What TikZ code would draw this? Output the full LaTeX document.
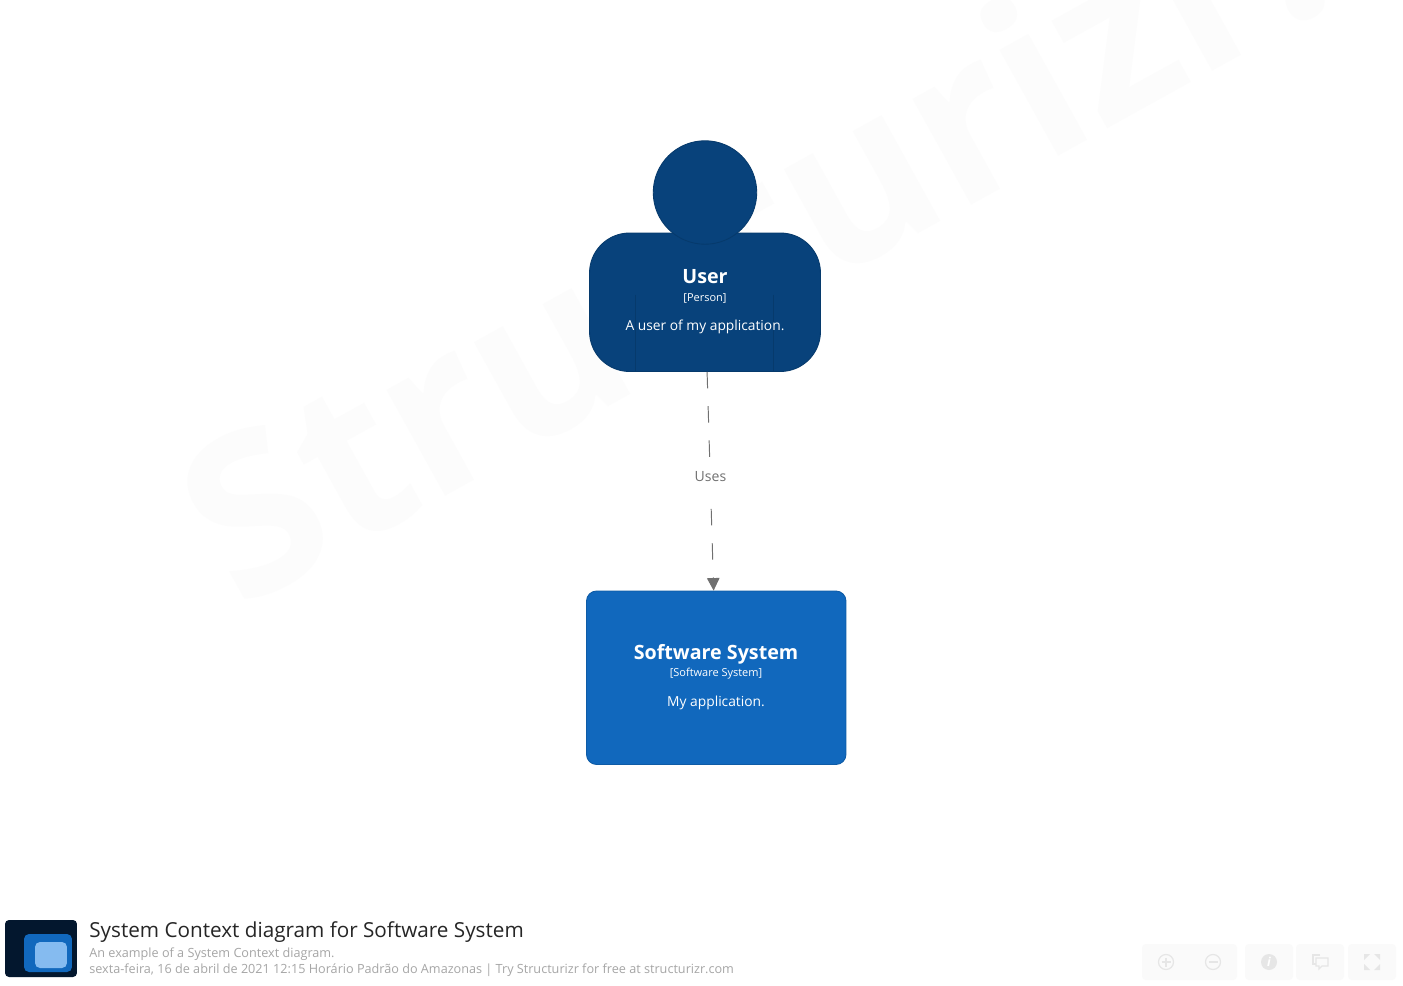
\documentclass[tikz,border=0pt]{standalone}
\usepackage{fontspec}
\setmainfont{Open Sans}
\usepackage{xcolor}
\usepackage{tikz}
\usetikzlibrary{positioning, shapes, arrows.meta}

\definecolor{persondark}{HTML}{08427B}
\definecolor{personline}{HTML}{063A6C}
\definecolor{systemblue}{HTML}{1168BD}
\definecolor{systemline}{HTML}{0E5BA6}
\definecolor{edgegray}{HTML}{707070}
\definecolor{toolfill}{HTML}{FAFAFA}
\definecolor{toolicon}{HTML}{E6E6E6}
\definecolor{logodark}{HTML}{03172E}
\definecolor{logolight}{HTML}{85BBF0}

\tikzset{
  pxfont/.style={font=\fontsize{#1}{#1}\selectfont},
  boldfont/.style={font=\fontsize{#1}{#1}\selectfont\bfseries},
  boxtext/.style={text=white, inner sep=0pt},
  footer/.style={text=black!35, inner sep=0pt, anchor=west, pxfont=7.2},
  toolbox/.style={fill=toolfill, rounded corners=0.08cm},
  iconline/.style={draw=toolicon, line width=0.7pt},
  iconfill/.style={fill=toolicon}
}

\begin{document}
\begin{tikzpicture}[x=0.02cm, y=-0.02cm]
    \path[use as bounding box, fill=white] (0,0) rectangle (1403,986);
    % watermark
    \node (watermark) [rotate=29, text=black!1.2, inner sep=0pt, boldfont=126] at (750,233) {Structurizr.};

    % person
    \node (user) [draw=personline, fill=persondark, line width=0.5pt, rounded corners=0.8cm,
      minimum width=4.62cm, minimum height=2.77cm, inner sep=0pt] at (705,302.25) {};
    \draw[personline, line width=0.5pt] (635.5,295) -- (635.5,371);
    \draw[personline, line width=0.5pt] (773.5,295) -- (773.5,371);
    \node (head) [circle, draw=personline, fill=persondark, line width=0.5pt,
      minimum size=2.07cm, inner sep=0pt] at (705,192.5) {};
    \node (username) [boxtext, boldfont=11.2] at (705,277) {User};
    \node (usertype) [boxtext, pxfont=6.25] at (705,298) {[Person]};
    \node (userdesc) [boxtext, pxfont=7.85] at (705,327) {A user of my application.};

    % software system
    \node (system) [draw=systemline, fill=systemblue, line width=0.5pt, rounded corners=0.2cm,
      minimum width=5.19cm, minimum height=3.47cm, inner sep=0pt] at (716.25,677.75) {};
    \node (systemname) [boxtext, boldfont=11.2] at (716,654) {Software System};
    \node (systemtype) [boxtext, pxfont=6.25] at (716,674) {[Software System]};
    \node (systemdesc) [boxtext, pxfont=7.85] at (716,703) {My application.};

    % relationship
    \draw[edgegray, line width=0.55pt, dash pattern=on 0.33cm off 0.355cm,
      -{Triangle[length=0.25cm, width=0.25cm]}] (user) -- (system);
    \node (uses) [fill=white, text=edgegray, inner sep=0pt, minimum width=1cm, minimum height=0.64cm, pxfont=8] at (710.5,477) {Uses};

    % footer
    \node (logo) [fill=logodark, rounded corners=0.08cm, minimum width=1.44cm, minimum height=1.14cm, inner sep=0pt] at (41,948.5) {};
    \node (logomid) [fill=systemblue, rounded corners=0.1cm, minimum width=0.96cm, minimum height=0.76cm, inner sep=0pt] at (48,953) {};
    \node (logoin) [fill=logolight, rounded corners=0.1cm, minimum width=0.64cm, minimum height=0.52cm, inner sep=0pt] at (51,955) {};
    \node (title) [text=black!85, inner sep=0pt, anchor=west, pxfont=11.78] at (89,932) {System Context diagram for Software System};
    \node (subtitle) [footer] at (89,954) {An example of a System Context diagram.};
    \node (stamp) [footer] at (89,970) {sexta-feira, 16 de abril de 2021 12:15 Horário Padrão do Amazonas | Try Structurizr for free at structurizr.com};

    % toolbar
    \fill[toolbox] (1142,944) rectangle (1237,980);
    \fill[toolbox] (1245,944) rectangle (1293,980);
    \fill[toolbox] (1296,944) rectangle (1344,980);
    \fill[toolbox] (1348,944) rectangle (1396,980);
    \draw[iconline] (1166,962) circle (7.5);
    \draw[iconline] (1161.5,962) -- (1170.5,962) (1166,957.5) -- (1166,966.5);
    \draw[iconline] (1213,962) circle (7.5);
    \draw[iconline] (1208.5,962) -- (1217.5,962);
    \fill[iconfill] (1269,962) circle (8);
    \node (infomark) [text=white, inner sep=0pt, boldfont=7] at (1269,962) {\itshape i};
    \draw[iconline] (1320,955) -- (1313,955) -- (1313,964) -- (1316,964);
    \draw[iconline] (1316,958) -- (1328,958) -- (1328,966) -- (1322,966) -- (1319,969) -- (1319,966) -- (1316,966) -- cycle;
    \fill[iconfill] (1364,954) -- (1370,954) -- (1364,960) -- cycle;
    \fill[iconfill] (1380,954) -- (1374,954) -- (1380,960) -- cycle;
    \fill[iconfill] (1364,970) -- (1370,970) -- (1364,964) -- cycle;
    \fill[iconfill] (1380,970) -- (1374,970) -- (1380,964) -- cycle;
\end{tikzpicture}
\end{document}
